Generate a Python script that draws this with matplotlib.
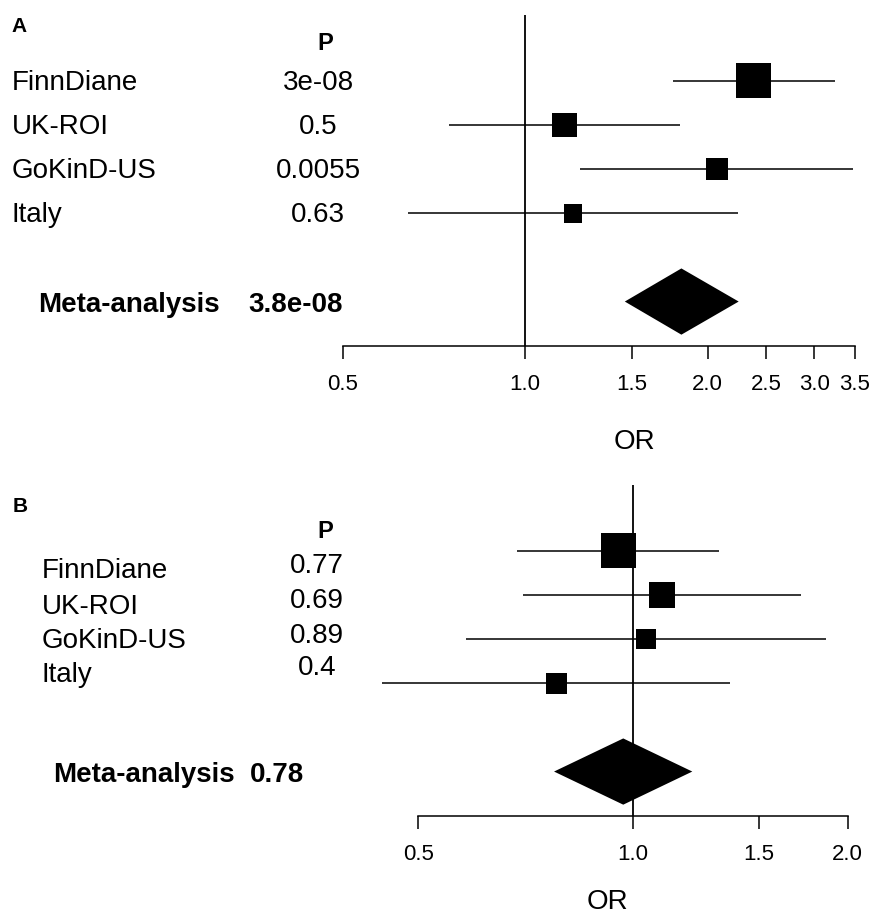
import matplotlib.pyplot as plt
import numpy as np
from matplotlib.ticker import NullLocator

W, H = 871, 916
DPI = 100

studies = ['FinnDiane', 'UK-ROI', 'GoKinD-US', 'Italy']

# panel A
a_or = [2.38, 1.16, 2.07, 1.20]
a_lo = [1.75, 0.75, 1.23, 0.64]
a_hi = [3.25, 1.80, 3.47, 2.24]
a_w = [1.0, 0.71, 0.62, 0.53]
a_p = ['3e-08', '0.5', '0.0055', '0.63']
a_meta = [1.81, 1.46, 2.25]
a_meta_p = '3.8e-08'
a_ticks = [0.5, 1.0, 1.5, 2.0, 2.5, 3.0, 3.5]
a_ticklabels = ['0.5', '1.0', '1.5', '2.0', '2.5', '3.0', '3.5']

# panel B
b_or = [0.954, 1.097, 1.043, 0.781]
b_lo = [0.688, 0.70, 0.583, 0.445]
b_hi = [1.32, 1.72, 1.865, 1.368]
b_w = [1.0, 0.74, 0.57, 0.61]
b_p = ['0.77', '0.69', '0.89', '0.4']
b_meta = [0.969, 0.775, 1.211]
b_meta_p = '0.78'
b_ticks = [0.5, 1.0, 1.5, 2.0]
b_ticklabels = ['0.5', '1.0', '1.5', '2.0']

plt.rcParams['font.family'] = ['Liberation Sans', 'DejaVu Sans']

fig = plt.figure(figsize=(W / DPI, H / DPI), dpi=DPI)


def px(x, y):
    return x / W, 1 - y / H


def txt(x, y, s, **kw):
    fx, fy = px(x, y)
    fig.text(fx, fy, s, va='baseline', **kw)


def forest(left, right, bottom, est, lo, hi, w, meta, ticks, labels):
    row = 44.15
    height = 7.5 * row
    ax = fig.add_axes([left / W, 1 - bottom / H, (right - left) / W, height / H])
    ax.set_xscale('log')
    ax.set_xlim(ticks[0], ticks[-1])
    ax.set_ylim(6.0, -1.5)
    ax.axvline(1.0, color='black', lw=1.3, zorder=1)
    rows = np.arange(len(est))
    ax.hlines(rows, lo, hi, color='black', lw=1.1, zorder=2, clip_on=False)
    side_pt = np.array(w) * 35 * 72 / DPI
    ax.scatter(est, rows, marker='s', s=side_pt ** 2, color='black',
               linewidths=0, zorder=3, clip_on=False)
    m, mlo, mhi = meta
    ax.fill([mlo, m, mhi, m], [5, 4.25, 5, 5.75], color='black', lw=0, zorder=3)
    for s in ['top', 'left', 'right']:
        ax.spines[s].set_visible(False)
    ax.spines['bottom'].set_linewidth(1.1)
    ax.set_yticks([])
    ax.xaxis.set_minor_locator(NullLocator())
    ax.set_xticks(ticks)
    ax.set_xticklabels(labels)
    ax.tick_params(axis='x', length=9.4, width=1.1, pad=11, labelsize=16)
    return ax


forest(342.7, 855.0, 345.7, a_or, a_lo, a_hi, a_w, a_meta, a_ticks, a_ticklabels)
forest(418.3, 847.7, 815.7, b_or, b_lo, b_hi, b_w, b_meta, b_ticks, b_ticklabels)

# panel A text
txt(11.7, 32, 'A', fontsize=15, fontweight='bold')
txt(325, 49.5, 'P', fontsize=17, fontweight='bold', ha='center')
for i, (name, p) in enumerate(zip(studies, a_p)):
    yb = 90 + i * 44.1
    txt(11.7, yb, name, fontsize=20)
    txt(318, yb, p, fontsize=20, ha='center')
txt(38, 312, 'Meta-analysis', fontsize=20, fontweight='bold')
txt(248, 312, a_meta_p, fontsize=20, fontweight='bold')
txt(634.5, 449, 'OR', fontsize=20, ha='center')

# panel B text
txt(13, 512, 'B', fontsize=15, fontweight='bold')
txt(325, 538, 'P', fontsize=17, fontweight='bold', ha='center')
b_label_y = [578.3, 614, 648.3, 681.7]
b_p_y = [573.3, 608.3, 643.3, 675]
for name, p, yl, yp in zip(studies, b_p, b_label_y, b_p_y):
    txt(41.7, yl, name, fontsize=20)
    txt(317, yp, p, fontsize=20, ha='center')
txt(52.8, 782, 'Meta-analysis', fontsize=20, fontweight='bold')
txt(250, 782, b_meta_p, fontsize=20, fontweight='bold')
txt(607.5, 909, 'OR', fontsize=20, ha='center')

fig.savefig('out.png', dpi=DPI)
